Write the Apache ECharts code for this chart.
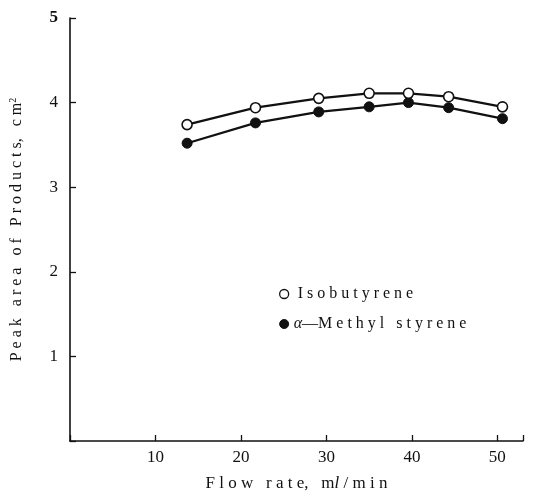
<!DOCTYPE html>
<html>
<head>
<meta charset="utf-8">
<script src="https://cdn.jsdelivr.net/npm/echarts@6/dist/echarts.min.js"></script>
<style>
  html, body { margin: 0; padding: 0; background: #fff; }
  #chart { width: 535px; height: 497px; }
</style>
</head>
<body>
<div id="chart"></div>
<script>
// flow rate (ml/min)
var flowRates = [13.7, 21.7, 29.1, 35.0, 39.6, 44.3, 50.6];
var isobutyrene = [3.74, 3.94, 4.05, 4.11, 4.11, 4.07, 3.95];
var methylStyrene = [3.52, 3.76, 3.89, 3.95, 4.00, 3.94, 3.81];
var xTicks = [10, 20, 30, 40, 50];
var yTicks = [1, 2, 3, 4, 5];

(function () {
    var font = '"Liberation Serif", "DejaVu Serif", serif';
    var ink = '#111';

    function pairs(xs, ys) {
        var out = [];
        for (var i = 0; i < xs.length; i++) {
            out.push([xs[i], ys[i]]);
        }
        return out;
    }

    var option = {
        backgroundColor: '#fff',
        animation: false,
        grid: {left: 70, right: 12, top: 18, bottom: 54},
        legend: {
            orient: 'vertical',
            left: 274,
            top: 281,
            itemGap: 14,
            itemWidth: 9,
            itemHeight: 9,
            icon: 'circle',
            textStyle: {
                fontFamily: font, fontSize: 16, color: ink,
                rich: {
                    a: {fontFamily: font, fontSize: 16, fontStyle: 'italic', color: ink},
                    t: {fontFamily: font, fontSize: 16, color: ink}
                }
            },
            formatter: function (name) {
                if (name === 'a-Methyl styrene') {
                    return '{a|α}{t|—M e t h y l   s t y r e n e}';
                }
                return ' I s o b u t y r e n e';
            },
            data: [
                {name: 'Isobutyrene', itemStyle: {color: '#fff', borderColor: ink, borderWidth: 1.3}},
                {name: 'a-Methyl styrene', itemStyle: {color: ink, borderColor: ink, borderWidth: 1}}
            ]
        },
        xAxis: {
            type: 'value',
            min: 0,
            max: 53,
            interval: 10,
            name: 'F l o w   r a t e,   m{i|l} / m i n',
            nameLocation: 'middle',
            nameGap: 34,
            nameTextStyle: {
                fontFamily: font, fontSize: 17, color: ink,
                rich: {i: {fontFamily: font, fontSize: 17, fontStyle: 'italic', color: ink}}
            },
            axisLine: {lineStyle: {color: ink, width: 1.6}},
            axisTick: {inside: true, length: 6, lineStyle: {color: ink, width: 1.3}},
            axisLabel: {
                fontFamily: font, fontSize: 17, color: ink, margin: 8,
                formatter: function (v) { return xTicks.indexOf(v) >= 0 ? String(v) : ''; }
            },
            splitLine: {show: false}
        },
        yAxis: {
            type: 'value',
            min: 0,
            max: 5,
            interval: 1,
            name: 'P e a k   a r e a   o f   P r o d u c t s,   c m{s|2}',
            nameLocation: 'middle',
            nameGap: 44,
            nameRotate: 90,
            nameTextStyle: {
                fontFamily: font, fontSize: 16, color: ink,
                rich: {s: {fontFamily: font, fontSize: 10, color: ink, verticalAlign: 'top', padding: [0, 0, 8, 0]}}
            },
            axisLine: {lineStyle: {color: ink, width: 1.6}},
            axisTick: {inside: true, length: 6, lineStyle: {color: ink, width: 1.3}},
            axisLabel: {
                fontFamily: font, fontSize: 17, color: ink, margin: 12,
                formatter: function (v) {
                    if (yTicks.indexOf(v) < 0) return '';
                    return v === 5 ? '{b|5}' : String(v);
                },
                rich: {b: {fontFamily: font, fontSize: 17, fontWeight: 'bold', color: ink}}
            },
            splitLine: {show: false}
        },
        series: [
            {
                name: 'Isobutyrene',
                type: 'line',
                data: pairs(flowRates, isobutyrene),
                symbol: 'circle',
                symbolSize: 10,
                lineStyle: {color: ink, width: 2.2},
                itemStyle: {color: '#fff', borderColor: ink, borderWidth: 1.6},
                z: 3
            },
            {
                name: 'a-Methyl styrene',
                type: 'line',
                data: pairs(flowRates, methylStyrene),
                symbol: 'circle',
                symbolSize: 10,
                lineStyle: {color: ink, width: 2.2},
                itemStyle: {color: ink, borderColor: ink, borderWidth: 1},
                z: 2
            }
        ]
    };

    var chart = echarts.init(document.getElementById('chart'), null, {renderer: 'canvas'});
    chart.setOption(option);
})();
</script>
</body>
</html>
